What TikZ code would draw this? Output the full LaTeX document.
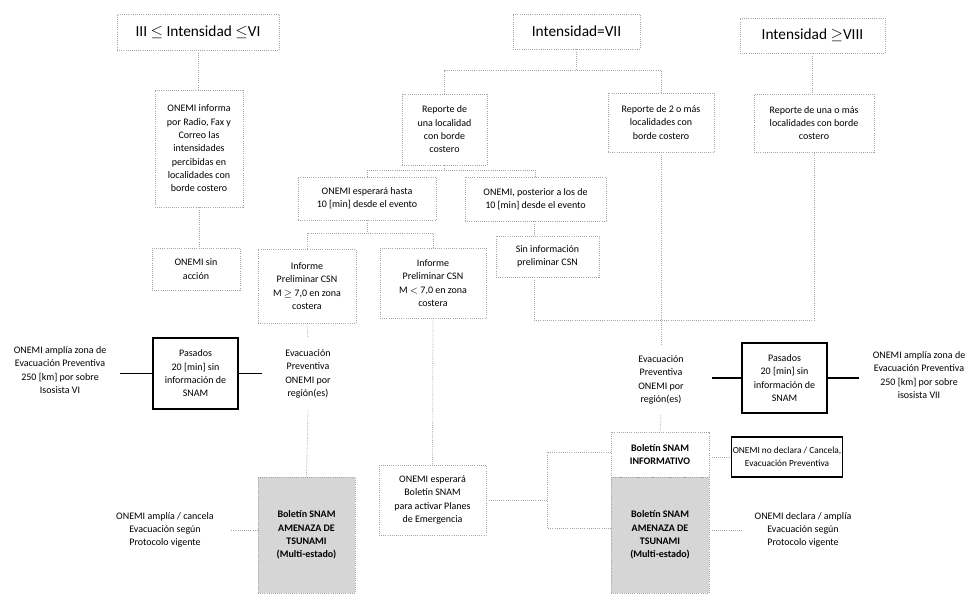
\documentclass[tikz,border=0pt]{standalone}
\usepackage{fontspec}
\setmainfont{Carlito}
\begin{document}
\begin{tikzpicture}[x=0.75pt,y=-0.75pt,
  sz/.style 2 args={minimum width=#1*0.75pt, minimum height=#2*0.75pt},
  box/.style={draw=gray!70, densely dotted, line width=0.6pt, align=center, inner sep=1pt, font=\fontsize{7.5}{10}\selectfont},
  bigbox/.style={box, font=\fontsize{11.5}{13}\selectfont},
  sbox/.style={draw=black, solid, line width=1.3pt, align=center, inner sep=1pt, font=\fontsize{7.5}{10}\selectfont},
  gbox/.style={box, fill=gray!32, font=\fontsize{7.5}{10}\selectfont\bfseries},
  txt/.style={align=center, inner sep=0pt, font=\fontsize{7.5}{10}\selectfont},
  con/.style={draw=gray!70, densely dotted, line width=0.6pt},
  tcon/.style={draw=black, line width=1.3pt}]
\useasboundingbox (0,0) rectangle (974,593);

% top level
\node[bigbox, sz={162}{36}] (A) at (198,32) {III $\leq$ Intensidad $\leq$VI};
\node[bigbox, sz={127}{35}] (B) at (576.5,31.5) {Intensidad=VII};
\node[bigbox, sz={145}{35}] (C) at (812.5,35.5) {Intensidad $\geq$VIII};

% left branch
\node[box, sz={88}{117}] (A1) at (199,148.5) {ONEMI informa\\por Radio, Fax y\\Correo las\\intensidades\\percibidas en\\localidades con\\borde costero};
\node[box, sz={88}{42}] (A2) at (196,269) {ONEMI sin\\acción};

% middle branch
\node[box, sz={85}{71}] (B1) at (444.5,129.5) {Reporte de\\una localidad\\con borde\\costero};
\node[box, sz={106}{59}] (B2) at (661,122.5) {Reporte de 2 o más\\localidades con\\borde costero};
\node[box, sz={120}{58}] (C1) at (814,123) {Reporte de una o más\\localidades con borde\\costero};

\node[box, sz={138}{43}] (B1a) at (367,198.5) {ONEMI esperará hasta\\10 [min] desde el evento};
\node[box, sz={141}{44}] (B1b) at (535.5,199) {ONEMI, posterior a los de\\10 [min] desde el evento};

\node[box, sz={98}{74}] (B1a1) at (307,286) {Informe\\Preliminar CSN\\M $\geq$ 7,0 en zona\\costera};
\node[box, sz={106}{70}] (B1a2) at (433,283) {Informe\\Preliminar CSN\\M $<$ 7,0 en zona\\costera};
\node[box, sz={103}{41}] (B1b1) at (547.5,256.5) {Sin información\\preliminar CSN};

% evacuation texts
\node[txt, sz={92}{72}] (EvL) at (308,374) {Evacuación\\Preventiva\\ONEMI por\\región(es)};
\node[txt, sz={102}{70}] (EvR) at (661,380) {Evacuación\\Preventiva\\ONEMI por\\región(es)};

% pasados boxes
\node[sbox, sz={85}{71}] (PL) at (195.5,373.5) {Pasados\\20 [min] sin\\información de\\SNAM};
\node[sbox, sz={85}{70}] (PR) at (784.5,378) {Pasados\\20 [min] sin\\información de\\SNAM};
\node[txt, sz={120}{50}] (LA) at (60,370) {ONEMI amplía zona de\\Evacuación Preventiva\\250 [km] por sobre\\Isosista VI};
\node[txt, sz={120}{50}] (RA) at (919,375) {ONEMI amplía zona de\\Evacuación Preventiva\\250 [km] por sobre\\isosista VII};

% bottom
\node[box, sz={107}{70}] (ESP) at (432.5,500) {ONEMI esperará\\Boletín SNAM\\para activar Planes\\de Emergencia};
\node[gbox, sz={97}{116}] (AML) at (306.5,535) {Boletín SNAM\\AMENAZA DE\\TSUNAMI\\(Multi-estado)};
\node[gbox, sz={98}{116}] (AMR) at (660,535) {Boletín SNAM\\AMENAZA DE\\TSUNAMI\\(Multi-estado)};
\node[box, sz={98}{45}, font=\fontsize{7.5}{10}\selectfont\bfseries] (INF) at (660,454.5) {Boletín SNAM\\INFORMATIVO};
\node[sbox, sz={104}{40}, font=\fontsize{7}{10}\selectfont] (NOD) at (787,457) {ONEMI no declara / Cancela,\\Evacuación Preventiva};
\node[txt, sz={130}{40}] (LD) at (165,530) {ONEMI amplía / cancela\\Evacuación según\\Protocolo vigente};
\node[txt, sz={122}{40}] (RD) at (803,530) {ONEMI declara / amplía\\Evacuación según\\Protocolo vigente};

% junction coordinates
\coordinate (jB) at (576.5,70);
\coordinate (jB1) at (444.5,170);
\coordinate (jB1a) at (367,233);
\coordinate (j3) at (534,320);
\coordinate (kt) at (547,452);
\coordinate (kb) at (547,528);

% connectors
\draw[con] (A.south) -- (A.south |- A1.north);
\draw[con] (A1.south) -- (A1.south |- A2.north);
\draw[con] (B.south) -- (jB);
\draw[con] (B1.north) |- (jB) -| (B2.north);
\draw[con] (C.south) -- (C.south |- C1.north);
\draw[con] (B1.south) -- (jB1);
\draw[con] (B1a.north) |- (jB1) -| (B1b.north);
\draw[con] (B1a.south) -- (jB1a);
\draw[con] (B1a1.north) |- (jB1a) -| (B1a2.north);
\draw[con] (B1b.south -| j3) -- (B1b1.north -| j3);
\draw[con] (B1b1.south -| j3) -- (j3) -| (C1.south);
\draw[con] (B2.south) -- (EvR.north);
\draw[con] (EvR.south) -- (INF.north);
\draw[con] (B1a1.south) -- (EvL.north);
\draw[con] (EvL.south) -- (AML.north);
\draw[con] (B1a2.south) -- (ESP.north);
\draw[con] (ESP.east) -- (ESP.east -| kt);
\draw[con] (INF.west |- kt) -- (kt) -- (kb) -- (AMR.west |- kb);
\draw[con] (NOD.west -| INF.east) -- (NOD.west);
\draw[con] (AMR.east |- RD.west) -- (RD.west);
\draw[con] (AML.west |- LD.east) -- (LD.east);

\draw[tcon] (PL.west -| LA.east) -- (PL.west);
\draw[tcon] (PL.east) -- (PL.east -| EvL.west);
\draw[tcon] (EvR.east |- PR.west) -- (PR.west);
\draw[tcon] (PR.east) -- (PR.east -| RA.west);
\end{tikzpicture}
\end{document}
